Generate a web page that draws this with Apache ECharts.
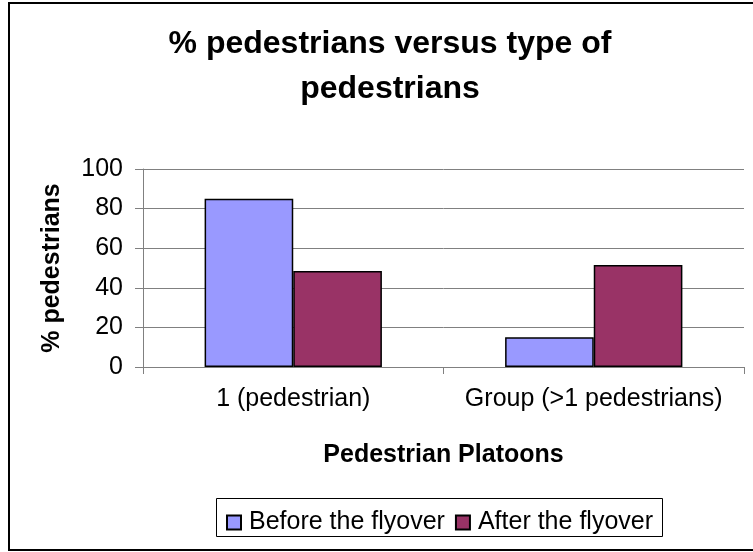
<!DOCTYPE html>
<html>
<head>
<meta charset="utf-8">
<script src="https://cdn.jsdelivr.net/npm/echarts@6/dist/echarts.min.js"></script>
<style>html,body{margin:0;padding:0;background:#fff}#c{width:753px;height:552px}</style>
</head>
<body>
<div id="c"></div>
<script>
var categories = ['1 (pedestrian)', 'Group (>1 pedestrians)'];
var beforeValues = [85, 15];
var afterValues = [48.5, 51.5];
var seriesNames = ['Before the flyover', 'After the flyover'];
var titleText = '% pedestrians versus type of\npedestrians';
var yAxisName = '% pedestrians';
var xAxisName = 'Pedestrian Platoons';

var F = '"Liberation Sans", Arial, sans-serif';
var chart = echarts.init(document.getElementById('c'), null, {renderer: 'canvas'});
chart.setOption({
  animation: false,
  backgroundColor: '#fff',
  graphic: [
    {type: 'rect', shape: {x: 9, y: 3, width: 760, height: 547}, style: {fill: 'none', stroke: '#000', lineWidth: 2}, z: 100},
    {type: 'rect', shape: {x: 216.5, y: 498.5, width: 446, height: 38}, style: {fill: '#fff', stroke: '#000', lineWidth: 1}, z: 1}
  ],
  title: {
    text: titleText,
    left: 385, top: 17, textAlign: 'center',
    textStyle: {fontFamily: F, fontSize: 32, fontWeight: 'bold', color: '#000', lineHeight: 45}
  },
  legend: {
    data: seriesNames,
    left: 226, top: 510, padding: 0,
    itemWidth: 14, itemHeight: 14, itemGap: 10,
    icon: 'rect',
    textStyle: {fontFamily: F, fontSize: 25, color: '#000', padding: [0, 0, 0, 3]},
    z: 5
  },
  grid: {left: 143, right: 9, top: 169, bottom: 185, containLabel: false},
  xAxis: {
    type: 'category',
    data: categories,
    name: xAxisName,
    nameLocation: 'middle',
    nameGap: 76,
    nameTextStyle: {fontFamily: F, fontSize: 25, fontWeight: 'bold', color: '#000'},
    axisLine: {lineStyle: {color: '#808080', width: 1}},
    axisTick: {show: true, alignWithLabel: false, length: 7, lineStyle: {color: '#808080'}},
    axisLabel: {fontFamily: F, fontSize: 25, color: '#000', margin: 20, interval: 0},
    splitLine: {show: false}
  },
  yAxis: {
    type: 'value',
    min: 0, max: 100, interval: 20,
    name: yAxisName,
    nameLocation: 'middle',
    nameGap: 78,
    nameTextStyle: {fontFamily: F, fontSize: 25, fontWeight: 'bold', color: '#000'},
    axisLine: {show: true, lineStyle: {color: '#808080', width: 1}},
    axisTick: {show: true, length: 8, lineStyle: {color: '#808080'}},
    axisLabel: {fontFamily: F, fontSize: 25, color: '#000', margin: 20},
    splitLine: {show: true, lineStyle: {color: '#808080', width: 1}}
  },
  series: [
    {
      name: seriesNames[0], type: 'bar', data: beforeValues,
      barGap: '0%', barCategoryGap: '41%',
      itemStyle: {color: '#9999FF', borderColor: '#000', borderWidth: 1.5}
    },
    {
      name: seriesNames[1], type: 'bar', data: afterValues,
      barGap: '0%', barCategoryGap: '41%',
      itemStyle: {color: '#993366', borderColor: '#000', borderWidth: 1.5}
    }
  ]
});
</script>
</body>
</html>
